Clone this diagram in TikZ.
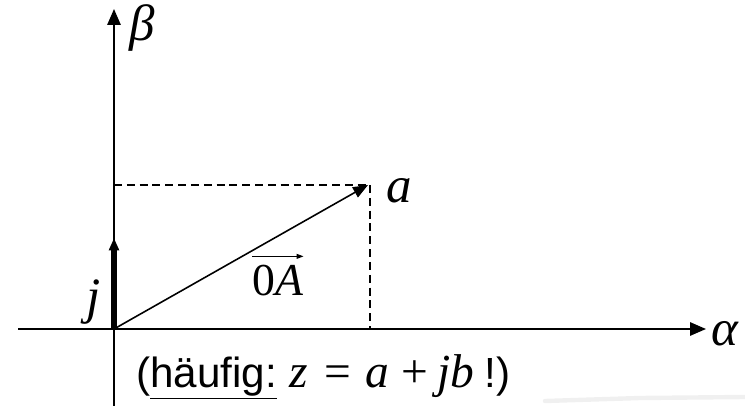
\documentclass[tikz,border=0pt]{standalone}
\usepackage{fontspec}
\setmainfont{Liberation Serif}
\setsansfont{Liberation Sans}
\usetikzlibrary{arrows.meta}
\begin{document}
\begin{tikzpicture}[x=0.02cm,y=-0.02cm,
  axis/.style={line width=1.1pt,-{Triangle[length=9pt,width=7.5pt]}},
  proj/.style={line width=0.85pt,dash pattern=on 4.5pt off 2.8pt},
  lbl/.style={font=\fontsize{29}{32}\selectfont\itshape,anchor=base west,inner sep=0pt},
  note/.style={font=\fontsize{24}{28}\sffamily,anchor=base west,inner sep=0pt}]
\useasboundingbox (0,0) rectangle (745,406);
\coordinate (O)  at (114,329);
\coordinate (xl) at (18,329);
\coordinate (xr) at (706,329);
\coordinate (yb) at (114,406);
\coordinate (yt) at (114,9);
\coordinate (J)  at (114,238);
\coordinate (A)  at (368,185);
\coordinate (Ay) at (114,185);
\coordinate (Ax) at (370,329);

% scan shadow
\draw[gray!12,line width=2.5pt,line cap=round] (545,401) -- (640,398) -- (745,397);

\draw[proj] (Ay) -- (A -| Ax);
\draw[proj] (A -| Ax) -- (Ax);

\draw[axis] (xl) -- (xr);
\draw[axis] (yb) -- (yt);

\draw[line width=3.4pt,-{Triangle[length=7pt,width=5.5pt]}] (O) -- (J);
\draw[line width=0.9pt,-{Triangle[length=8.5pt,width=6.5pt]}] (O) -- (A);

\node[lbl] (alpha) at (711,345) {α};
\node[lbl] (beta)  at (129,40) {β};
\node[lbl] (a)     at (386,202) {a};
\node[lbl] (j)     at (86,313) {j};
\node[font=\fontsize{26}{30}\selectfont,anchor=base west,inner sep=0pt] (OA) at (252,295)
  {0\textit{A}};
\draw[line width=0.6pt,-{Triangle[length=4pt,width=2.8pt]}]
  ([yshift=4.5pt]OA.north west) -- ([yshift=4.5pt]OA.north east);
\node[note] (hint) at (136,387)
  {(\underline{häufig:}\hspace{0.3em}{\rmfamily\fontsize{27}{30}\selectfont\itshape z\hspace{0.35em}\upshape =\hspace{0.3em}\itshape a\hspace{0.25em}\upshape +\hspace{0.2em}\itshape jb}\hspace{0.25em}!)};
\end{tikzpicture}
\end{document}
